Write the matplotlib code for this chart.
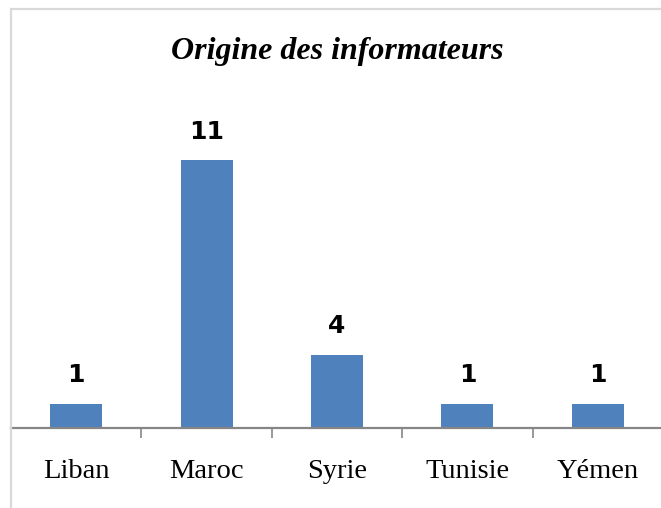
import matplotlib
matplotlib.use('Agg')
import matplotlib.pyplot as plt
from matplotlib.patches import Rectangle

# Données
pays = ['Liban', 'Maroc', 'Syrie', 'Tunisie', 'Yémen']
# hauteurs des barres (la barre Syrie est tracée à 3)
hauteurs = [1, 11, 3, 1, 1]
# étiquettes affichées au-dessus des barres
etiquettes = ['1', '11', '4', '1', '1']

COLOR_BAR = '#4F81BD'
COLOR_AXIS = '#868686'
COLOR_BORDER = '#D9D9D9'

W, H = 661, 508
fig = plt.figure(figsize=(W / 100, H / 100), dpi=100)

# cadre du graphique (bords droit et bas hors de l'image)
fig.patches.append(Rectangle((11 / W, -0.1), 1.2, 1.1 - 9 / H, transform=fig.transFigure,
                             fill=False, edgecolor=COLOR_BORDER, linewidth=1.6))

ax = fig.add_axes([11 / W, 80 / H, 652 / W, 292 / H])
x = range(len(pays))
bars = ax.bar(x, hauteurs, width=0.4, color=COLOR_BAR, zorder=2)

for b, txt in zip(bars, etiquettes):
    ax.annotate(txt, (b.get_x() + b.get_width() / 2, b.get_height()),
                xytext=(0, 12), textcoords='offset points', ha='center', va='bottom',
                fontsize=18, fontweight='bold', family='DejaVu Sans')

ax.set_xlim(-0.5, len(pays) - 0.5)
ax.set_ylim(0, 12)
ax.set_yticks([])
for s in ['top', 'right', 'left']:
    ax.spines[s].set_visible(False)
ax.spines['bottom'].set_color(COLOR_AXIS)
ax.spines['bottom'].set_linewidth(1.6)

# graduations entre les catégories
ax.set_xticks([i + 0.5 for i in range(len(pays) - 1)], minor=False)
ax.set_xticklabels([])
ax.tick_params(axis='x', which='major', length=7, width=1.2, color=COLOR_AXIS, direction='out')
ax.set_xticks(list(x), minor=True)
ax.set_xticklabels(pays, minor=True, fontsize=20.5, family='Liberation Serif')
ax.tick_params(axis='x', which='minor', length=0, pad=22)
ax.patch.set_alpha(0)

fig.text(337 / W, 1 - 51 / H, 'Origine des informateurs', ha='center', va='center',
         fontsize=23, fontweight='bold', style='italic', family='Liberation Serif')

fig.savefig('out.png', dpi=100, facecolor='white')
